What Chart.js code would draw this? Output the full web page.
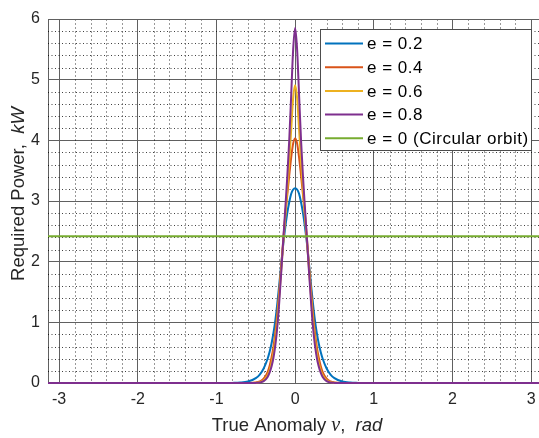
<!DOCTYPE html>
<html>
<head>
<meta charset="utf-8">
<script src="https://cdn.jsdelivr.net/npm/chart.js@4.4.0/dist/chart.umd.min.js"></script>
<style>
  html, body { margin: 0; padding: 0; background: #fff; overflow: hidden; }
</style>
</head>
<body>
<canvas id="power" width="539" height="438"></canvas>
<script>
// true anomaly samples, rad
var nu = [-3.1416, -1, -0.9, -0.8, -0.7, -0.6, -0.5, -0.45, -0.4, -0.35, -0.325, -0.3, -0.275, -0.25, -0.225, -0.2, -0.175, -0.15, -0.125, -0.1, -0.075, -0.05, -0.025,
    0, 0.025, 0.05, 0.075, 0.1, 0.125, 0.15, 0.175, 0.2, 0.225, 0.25, 0.275, 0.3, 0.325, 0.35, 0.4, 0.45, 0.5, 0.6, 0.7, 0.8, 0.9, 1, 3.1416]

// required power, kW
var powerE02 = [0, 0, 0, 0.002, 0.007, 0.025, 0.08, 0.14, 0.24, 0.4, 0.51, 0.65, 0.83, 1.05, 1.33, 1.65, 1.98, 2.3, 2.57, 2.8, 2.98, 3.12, 3.19,
    3.21, 3.19, 3.12, 2.98, 2.8, 2.57, 2.3, 1.98, 1.65, 1.33, 1.05, 0.83, 0.65, 0.51, 0.4, 0.24, 0.14, 0.08, 0.025, 0.007, 0.002, 0, 0, 0]
var powerE04 = [0, 0, 0, 0, 0, 0.001, 0.008, 0.025, 0.07, 0.18, 0.28, 0.42, 0.6, 0.85, 1.17, 1.55, 1.95, 2.38, 2.78, 3.1, 3.42, 3.72, 3.95,
    4.03, 3.95, 3.72, 3.42, 3.1, 2.78, 2.38, 1.95, 1.55, 1.17, 0.85, 0.6, 0.42, 0.28, 0.18, 0.07, 0.025, 0.008, 0.001, 0, 0, 0, 0, 0]
var powerE06 = [0, 0, 0, 0, 0, 0, 0.004, 0.015, 0.045, 0.13, 0.21, 0.33, 0.5, 0.75, 1.07, 1.47, 1.9, 2.33, 2.74, 3.17, 3.65, 4.18, 4.7,
    4.91, 4.7, 4.18, 3.65, 3.17, 2.74, 2.33, 1.9, 1.47, 1.07, 0.75, 0.5, 0.33, 0.21, 0.13, 0.045, 0.015, 0.004, 0, 0, 0, 0, 0, 0]
var powerE08 = [0, 0, 0, 0, 0, 0, 0.002, 0.008, 0.03, 0.1, 0.17, 0.27, 0.42, 0.64, 0.95, 1.37, 1.86, 2.38, 2.88, 3.4, 4.0, 4.75, 5.5,
    5.85, 5.5, 4.75, 4.0, 3.4, 2.88, 2.38, 1.86, 1.37, 0.95, 0.64, 0.42, 0.27, 0.17, 0.1, 0.03, 0.008, 0.002, 0, 0, 0, 0, 0, 0]

// circular orbit is flat
var circularNu = [-3.1416, 3.1416]
var powerCircular = [2.42, 2.42]

var seriesLabels = ['e = 0.2', 'e = 0.4', 'e = 0.6', 'e = 0.8', 'e = 0 (Circular orbit)']
var seriesColors = ['#0072BD', '#D95319', '#EDB120', '#7E2F8E', '#77AC30']

var sans = '"Liberation Sans", Arial, Helvetica, sans-serif'

var toPoints = function (xs, ys) {
    return xs.map(function (x, i) { return { x: x, y: ys[i] } })
}

var lineSet = function (i, xs, ys) {
    return {
        label: seriesLabels[i],
        data: toPoints(xs, ys),
        borderColor: seriesColors[i],
        backgroundColor: seriesColors[i],
        borderWidth: 2,
        pointRadius: 0,
        cubicInterpolationMode: 'monotone',
        fill: false,
        clip: 3,
        order: 5 - i // later series on top, like the original
    }
}

// dotted minor grid every 0.2
var minorGrid = {
    id: 'minorGrid',
    beforeDatasetsDraw: function (chart) {
        var ctx = chart.ctx, area = chart.chartArea
        var xs = chart.scales.x, ys = chart.scales.y
        ctx.save()
        ctx.lineWidth = 1
        ctx.strokeStyle = 'rgba(0,0,0,0.4)'
        ctx.setLineDash([2, 2])
        for (var k = -16; k <= 16; k++) {
            if (k % 5 === 0) continue
            var px = Math.round(xs.getPixelForValue(k / 5)) + 0.5
            if (px < area.left || px > area.right) continue
            ctx.beginPath(); ctx.moveTo(px, area.top); ctx.lineTo(px, area.bottom); ctx.stroke()
        }
        ctx.strokeStyle = 'rgba(0,0,0,0.75)'
        ctx.setLineDash([1, 2.5])
        for (var m = 1; m < 30; m++) {
            if (m % 5 === 0) continue
            var py = Math.round(ys.getPixelForValue(m / 5)) + 0.5
            ctx.beginPath(); ctx.moveTo(area.left, py); ctx.lineTo(area.right, py); ctx.stroke()
        }
        ctx.restore()
    }
}

var drawParts = function (ctx, parts, x, y, align) {
    var total = 0
    parts.forEach(function (p) { ctx.font = p.font; total += ctx.measureText(p.text).width })
    var cx = align === 'center' ? x - total / 2 : x
    parts.forEach(function (p) {
        ctx.font = p.font
        ctx.fillText(p.text, cx, y)
        cx += ctx.measureText(p.text).width
    })
}

// box, axis titles and legend
var decorations = {
    id: 'decorations',
    afterDraw: function (chart) {
        var ctx = chart.ctx, area = chart.chartArea
        ctx.save()
        ctx.strokeStyle = '#606060'
        ctx.lineWidth = 1
        ctx.beginPath(); ctx.moveTo(area.left, area.top + 0.5); ctx.lineTo(area.right, area.top + 0.5); ctx.stroke()

        ctx.fillStyle = '#262626'
        ctx.textBaseline = 'alphabetic'
        drawParts(ctx, [
            { text: 'True Anomaly ', font: '18.5px ' + sans },
            { text: 'ν', font: 'italic 20px "Liberation Serif", "Times New Roman", serif' },
            { text: ',  ', font: '18.5px ' + sans },
            { text: 'rad', font: 'italic 18.5px ' + sans }
        ], 297, 431, 'center')

        ctx.translate(24, 194)
        ctx.rotate(-Math.PI / 2)
        drawParts(ctx, [
            { text: 'Required Power,  ', font: '18.5px ' + sans },
            { text: 'kW', font: 'italic 18.5px ' + sans }
        ], 0, 0, 'center')
        ctx.restore()

        // legend
        ctx.save()
        var x0 = 320.5, y0 = 29.5, w = 211, h = 121
        ctx.fillStyle = '#fff'
        ctx.fillRect(x0, y0, w, h)
        ctx.strokeStyle = '#4d4d4d'
        ctx.lineWidth = 1
        ctx.strokeRect(x0, y0, w, h)
        ctx.font = '17px ' + sans
        ctx.letterSpacing = '0.5px'
        ctx.textBaseline = 'middle'
        chart.data.datasets.forEach(function (ds, i) {
            var y = 43.5 + i * 23.7
            ctx.strokeStyle = ds.borderColor
            ctx.lineWidth = 2
            ctx.beginPath(); ctx.moveTo(325, y); ctx.lineTo(363, y); ctx.stroke()
            ctx.fillStyle = '#000'
            ctx.fillText(ds.label, 367, y + 1)
        })
        ctx.restore()
    }
}

new Chart(document.getElementById('power').getContext('2d'), {
    type: 'line',
    data: {
        datasets: [
            lineSet(0, nu, powerE02),
            lineSet(1, nu, powerE04),
            lineSet(2, nu, powerE06),
            lineSet(3, nu, powerE08),
            lineSet(4, circularNu, powerCircular)
        ]
    },
    options: {
        responsive: false,
        animation: false,
        layout: { padding: { top: 19, right: 0, left: 0, bottom: 0 } },
        plugins: {
            legend: { display: false },
            tooltip: { enabled: false }
        },
        scales: {
            x: {
                type: 'linear',
                min: -3.1416,
                max: 3.1,
                ticks: {
                    stepSize: 1,
                    includeBounds: false,
                    maxRotation: 0,
                    padding: 7,
                    color: '#262626',
                    font: { family: sans, size: 16 }
                },
                grid: { color: '#606060', lineWidth: 1, drawTicks: false },
                border: { color: '#606060' },
                afterFit: function (scale) {
                    scale.height = 55
                    scale.paddingLeft = 0
                    scale.paddingRight = 0
                }
            },
            y: {
                min: 0,
                max: 6,
                ticks: {
                    stepSize: 1,
                    padding: 8,
                    color: '#262626',
                    font: { family: sans, size: 16 }
                },
                grid: { color: '#606060', lineWidth: 1, drawTicks: false },
                border: { color: '#606060' },
                afterFit: function (scale) { scale.width = 48 }
            }
        }
    },
    plugins: [minorGrid, decorations]
})
</script>
</body>
</html>
